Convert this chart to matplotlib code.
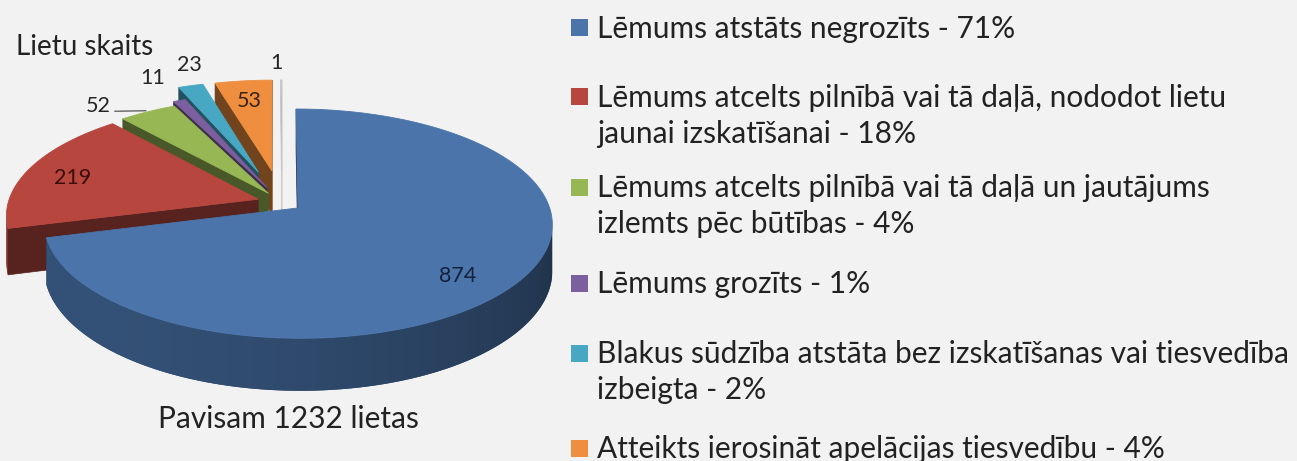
import numpy as np
import matplotlib.pyplot as plt
from matplotlib.patches import Polygon, Rectangle
from matplotlib.colors import to_rgb

# --- data ---
counts = [874, 219, 52, 11, 23, 53, 1]
legend_names = [
    "Lēmums atstāts negrozīts",
    "Lēmums atcelts pilnībā vai tā daļā, nododot lietu\njaunai izskatīšanai",
    "Lēmums atcelts pilnībā vai tā daļā un jautājums\nizlemts pēc būtības",
    "Lēmums grozīts",
    "Blakus sūdzība atstāta bez izskatīšanas vai tiesvedība\nizbeigta",
    "Atteikts ierosināt apelācijas tiesvedību",
]
title = "Lietu skaits"
total_note = "Pavisam 1232 lietas"

# --- styling ---
slice_colors = ['#4a74aa', '#b7463f', '#96b753', '#7c5f9f', '#48a8c4', '#ee8e3e', '#ffffff']
explode = [0.08, 0.10, 0.10, 0.15, 0.30, 0.30, 0.30]
label_r = [0.80, 0.80, 1.21, 1.33, 1.28, 0.77, 1.24]
label_dt = [-5.7, 1.7, 7.0, 0.4, -3.3, 0.0, 1.0]
label_colors = ['#13213a', '#3b0e0b', '#262626', '#262626', '#262626', '#3a2410', '#262626']
leader = [False, False, True, False, False, False, False]

plt.rcParams['font.family'] = ['Lato', 'DejaVu Sans']

BG = '#f2f2f2'
TXT = '#222222'
W, H = 1297, 461
fig = plt.figure(figsize=(W / 100, H / 100), dpi=100, facecolor=BG)
ax = fig.add_axes([0, 0, 1, 1])
ax.axis('off')
ax.set_facecolor(BG)

# simple perspective projection of a tilted pie (radius 1, thickness 1)
CX, CY = 282.0, 202.5
RX, RY, PERSP, DEPTH = 250.0, 111.0, 0.136, 45.0
CAM = np.array([0.0, -1.0 / PERSP])


def proj(x, y, z=0.0):
    w = 1.0 / (1.0 + PERSP * y)
    return CX + RX * x * w, CY - (RY * y + DEPTH * z) * w


def shade(c, f):
    r, g, b = to_rgb(c)
    return (r * f, g * f, b * f)


total = sum(counts)
cum = np.concatenate([[0], np.cumsum(counts)])
hi = 90 - cum[:-1] / total * 360   # Excel: start at 12 o'clock, clockwise
lo = 90 - cum[1:] / total * 360
mid = (hi + lo) / 2
offs = [explode[i] * np.array([np.cos(np.radians(mid[i])), np.sin(np.radians(mid[i]))])
        for i in range(len(counts))]

# far slices first
order = sorted(range(len(counts)),
               key=lambda i: -(offs[i][1] + 0.5 * np.sin(np.radians(mid[i]))))

z = 1
for i in order:
    col = slice_colors[i]
    ox, oy = offs[i]
    n_pts = max(3, int((hi[i] - lo[i]) * 3) + 2)
    t = np.radians(np.linspace(lo[i], hi[i], n_pts))
    rx, ry = ox + np.cos(t), oy + np.sin(t)

    # radial cut faces
    for ang, sgn in ((lo[i], -1), (hi[i], 1)):
        a = np.radians(ang)
        nrm = sgn * np.array([-np.sin(a), np.cos(a)])
        m = np.array([ox + 0.5 * np.cos(a), oy + 0.5 * np.sin(a)])
        if nrm @ (CAM - m) > 0:
            ex, ey = ox + np.cos(a), oy + np.sin(a)
            pts = [proj(ox, oy, 0), proj(ex, ey, 0), proj(ex, ey, -1), proj(ox, oy, -1)]
            fc = shade(col, 0.48) if i != 6 else '#c8c8c8'
            ax.add_patch(Polygon(pts, closed=True, fc=fc, ec=fc, lw=0.5, zorder=z))
            z += 1

    # outer wall, front part only, with a left-to-right shading gradient
    vis = (np.cos(t) * (CAM[0] - rx) + np.sin(t) * (CAM[1] - ry)) > 0
    idx = np.where(vis)[0]
    if len(idx) > 1:
        tv = t[idx]
        tx, ty = proj(rx[idx], ry[idx], 0)
        bx, by = proj(rx[idx], ry[idx], -1)
        poly = np.column_stack([np.r_[tx, bx[::-1]], np.r_[ty, by[::-1]]])
        f = 0.40 + 0.30 * (1 + np.cos(tv - np.radians(215))) / 2
        cols = np.array([shade(col, ff) if i != 6 else to_rgb('#d0d0d0') for ff in f])
        x0, x1 = poly[:, 0].min(), poly[:, 0].max()
        y0, y1 = poly[:, 1].min(), poly[:, 1].max()
        xs = np.linspace(x0, x1, 400)
        srt = np.argsort(tx)
        img = np.stack([np.interp(xs, tx[srt], cols[srt, c]) for c in range(3)], axis=-1)[None]
        clip = Polygon(poly, closed=True, fc=cols.mean(axis=0), ec='none', zorder=z)
        ax.add_patch(clip)
        im = ax.imshow(img, extent=(x0, x1, y1, y0), aspect='auto',
                       interpolation='bilinear', zorder=z + 0.5)
        im.set_clip_path(clip)
        z += 1

    # top surface
    top = [proj(ox, oy, 0)] + [proj(x, y, 0) for x, y in zip(rx, ry)]
    ax.add_patch(Polygon(top, closed=True, fc=col,
                         ec=col if i != 6 else '#c0c0c0', lw=0.6, zorder=z))
    z += 1

# value labels
for i in range(len(counts)):
    a = np.radians(mid[i] + label_dt[i])
    lx, ly = proj(offs[i][0] + label_r[i] * np.cos(a), offs[i][1] + label_r[i] * np.sin(a))
    ax.text(lx, ly + 7.5, str(counts[i]), ha='center', va='baseline',
            fontsize=15.5, color=label_colors[i], zorder=z)
    if leader[i]:
        a0 = np.radians(mid[i])
        ex, ey = proj(offs[i][0] + np.cos(a0), offs[i][1] + np.sin(a0))
        ax.plot([lx + 17, ex - 2], [ly + 7, ey - 1], color='#404040', lw=0.8, zorder=z)

ax.text(85, 47 + 8, title, ha='center', va='baseline', fontsize=20, color=TXT)
ax.text(288, 418 + 10, total_note, ha='center', va='baseline', fontsize=21.5, color=TXT)

# legend
legend_y = [28, 97, 187, 283, 353, 448]
for k, name in enumerate(legend_names):
    pct = round(100 * counts[k] / total)
    lines = f"{name} - {pct}%".split('\n')
    ax.add_patch(Rectangle((571, legend_y[k] - 8.5), 17, 17, fc=slice_colors[k], ec='none'))
    for j, line in enumerate(lines):
        ax.text(597, legend_y[k] + 36 * j + 10, line, ha='left', va='baseline',
                fontsize=21.5, color=TXT)

ax.set_xlim(0, W)
ax.set_ylim(H, 0)
fig.savefig('out.png', dpi=100, facecolor=BG)
